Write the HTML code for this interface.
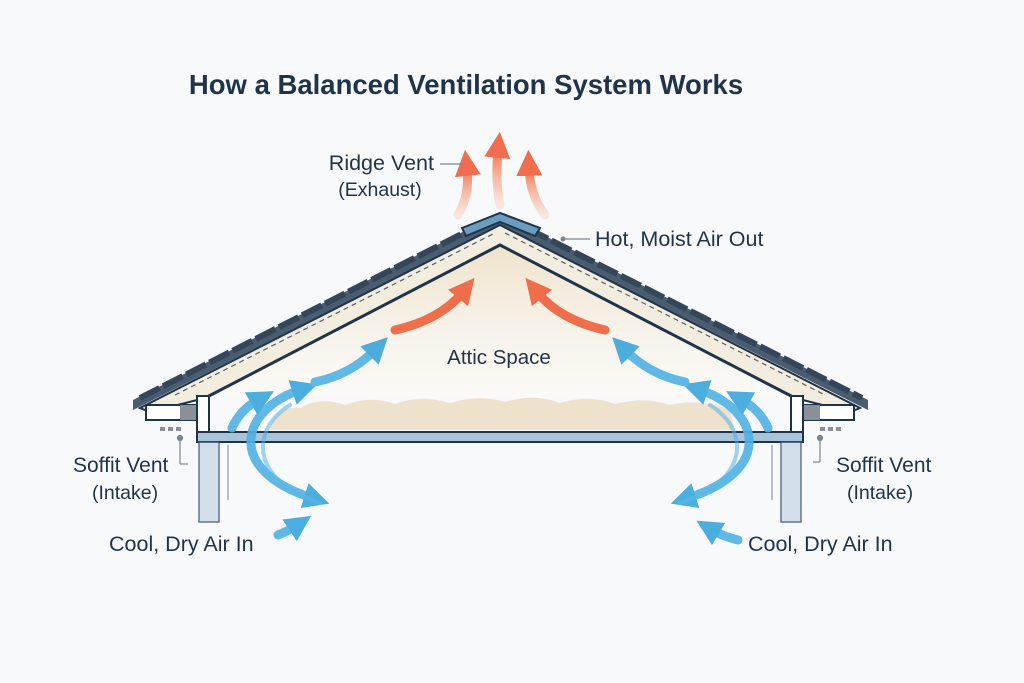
<!DOCTYPE html>
<html><head><meta charset="utf-8"><style>
html,body{margin:0;padding:0;background:#f8f9fb;}
svg{display:block;}
text{font-family:"Liberation Sans",sans-serif;fill:#1f3349;}
</style></head><body>
<svg width="1024" height="683" viewBox="0 0 1024 683" xmlns="http://www.w3.org/2000/svg">
<defs>
<linearGradient id="attic" x1="0" y1="0" x2="0" y2="1">
<stop offset="0" stop-color="#efe3cc"/><stop offset="0.6" stop-color="#f8f4ec"/><stop offset="1" stop-color="#fbfaf7"/></linearGradient>
<marker id="bh" viewBox="0 0 10 10" refX="3" refY="5" markerWidth="26" markerHeight="26" markerUnits="userSpaceOnUse" orient="auto-start-reverse"><path d="M0,0 L10,5 L0,10 Z" fill="#3aa6dc"/></marker>
<marker id="rh" viewBox="0 0 10 10" refX="3" refY="5" markerWidth="26" markerHeight="26" markerUnits="userSpaceOnUse" orient="auto-start-reverse"><path d="M0,0 L10,5 L0,10 Z" fill="#f0603c"/></marker>
<linearGradient id="rg" x1="0" y1="1" x2="0" y2="0"><stop offset="0" stop-color="#f7b48f" stop-opacity="0.3"/><stop offset="1" stop-color="#f0603c"/></linearGradient>
</defs>
<rect width="1024" height="683" fill="#f8f9fb"/>
<text x="466" y="94" font-size="27.5" text-anchor="middle" font-weight="bold" fill="#1f3a52">How a Balanced Ventilation System Works</text>

<!-- attic interior -->
<polygon points="500,245 205,398 795,398" fill="url(#attic)"/>
<!-- insulation -->
<path d="M270,430 Q275,405 300,408 Q320,396 345,405 Q370,395 395,404 Q420,394 450,403 Q480,394 505,402 Q535,393 560,403 Q590,394 615,404 Q645,396 670,405 Q700,398 730,410 L735,430 Z" fill="#ecdcc0" opacity="0.8"/>
<!-- roof slabs -->
<polygon points="133,400 500,213 868,400 868,410 500,225 133,410" fill="#4a5c70"/>
<path d="M140,398 L495,217" stroke="#34465a" stroke-width="6" stroke-dasharray="22,4"/>
<path d="M505,217 L862,398" stroke="#34465a" stroke-width="6" stroke-dasharray="22,4"/>
<polygon points="140,408 500,225 860,408 850,412 795,398 500,245 205,398 150,412" fill="#f3ede0" stroke="#1f3349" stroke-width="2"/>
<line x1="175" y1="395" x2="495" y2="233" stroke="#55606c" stroke-width="1.2" stroke-dasharray="5,4"/>
<line x1="505" y1="233" x2="825" y2="395" stroke="#55606c" stroke-width="1.2" stroke-dasharray="5,4"/>
<path d="M205,398 L500,245 L795,398" fill="none" stroke="#1f3349" stroke-width="3"/>
<!-- ridge cap -->
<polygon points="462,228 500,213 540,228 535,236 500,222 466,236" fill="#6a9dc0" stroke="#1f3349" stroke-width="2"/>
<!-- soffits -->
<rect x="146" y="405" width="50" height="15" fill="#fff" stroke="#1f3349" stroke-width="2"/>
<rect x="180" y="405" width="16" height="15" fill="#8a9097"/>
<rect x="804" y="405" width="50" height="15" fill="#fff" stroke="#1f3349" stroke-width="2"/>
<rect x="804" y="405" width="16" height="15" fill="#8a9097"/>
<!-- studs -->
<rect x="197" y="396" width="12" height="46" fill="#fff" stroke="#1f3349" stroke-width="2"/>
<rect x="791" y="396" width="12" height="46" fill="#fff" stroke="#1f3349" stroke-width="2"/>
<!-- floor beam -->
<rect x="197" y="432" width="606" height="10" fill="#a9c4d9" stroke="#1f3349" stroke-width="2"/>
<!-- posts -->
<rect x="199" y="442" width="20" height="80" fill="#c9d8e6" stroke="#3d5670" stroke-width="1.5" opacity="0.8"/>
<rect x="781" y="442" width="20" height="80" fill="#c9d8e6" stroke="#3d5670" stroke-width="1.5" opacity="0.8"/>
<line x1="228" y1="445" x2="228" y2="500" stroke="#aab" stroke-width="1.5"/>
<line x1="772" y1="445" x2="772" y2="500" stroke="#aab" stroke-width="1.5"/>
<!-- soffit vent dots -->
<g fill="#8a9097"><rect x="160" y="427" width="5" height="4"/><rect x="168" y="427" width="5" height="4"/><rect x="176" y="427" width="5" height="4"/><rect x="820" y="427" width="5" height="4"/><rect x="828" y="427" width="5" height="4"/><rect x="836" y="427" width="5" height="4"/></g>
<g stroke="#7a8590" stroke-width="1.2" fill="#7a8590"><circle cx="180" cy="438" r="2.5"/><line x1="180" y1="438" x2="180" y2="464"/><line x1="180" y1="464" x2="188" y2="464"/>
<circle cx="820" cy="438" r="2.5"/><line x1="820" y1="438" x2="820" y2="462"/><line x1="820" y1="462" x2="813" y2="462"/></g>

<!-- blue arrows -->
<g fill="none" stroke="#4fb2e4" stroke-width="9" stroke-linecap="round" opacity="0.9">
<path d="M300,390 C240,410 225,470 312,498" marker-start="url(#bh)" marker-end="url(#bh)"/>
<path d="M290,405 C250,430 250,480 320,503" stroke-width="4" opacity="0.6"/>
<path d="M232,428 Q240,410 258,400" marker-end="url(#bh)"/>
<path d="M315,382 Q350,375 375,350" marker-end="url(#bh)"/>
<path d="M278,535 Q290,530 296,526" marker-end="url(#bh)"/>
<path d="M700,390 C760,410 775,470 688,498" marker-start="url(#bh)" marker-end="url(#bh)"/>
<path d="M710,405 C750,430 750,480 680,503" stroke-width="4" opacity="0.6"/>
<path d="M768,428 Q760,410 742,400" marker-end="url(#bh)"/>
<path d="M685,382 Q650,375 625,350" marker-end="url(#bh)"/>
<path d="M738,540 Q722,536 712,530" marker-end="url(#bh)"/>
</g>
<!-- red arrows -->
<g fill="none" stroke="#f0603c" stroke-width="9" stroke-linecap="round" opacity="0.9">
<path d="M395,330 Q440,320 463,292" marker-end="url(#rh)"/>
<path d="M605,330 Q560,320 537,292" marker-end="url(#rh)"/>
<path d="M458,215 Q470,195 467,168" stroke="url(#rg)" marker-end="url(#rh)"/>
<path d="M500,205 Q495,180 498,150" stroke="url(#rg)" marker-end="url(#rh)"/>
<path d="M545,215 Q530,195 529,168" stroke="url(#rg)" marker-end="url(#rh)"/>
</g>

<!-- labels -->
<text x="434" y="170" font-size="21.5" text-anchor="end">Ridge Vent</text>
<line x1="440" y1="164" x2="463" y2="164" stroke="#7a8590" stroke-width="1.2"/>
<text x="380" y="196" font-size="19.5" text-anchor="middle" fill="#3d4d5e">(Exhaust)</text>
<circle cx="563" cy="239" r="2.5" fill="#7a8590"/><line x1="563" y1="239" x2="590" y2="239" stroke="#7a8590" stroke-width="1.2"/>
<text x="595" y="246" font-size="21.5">Hot, Moist Air Out</text>
<text x="499" y="364" font-size="20.5" text-anchor="middle">Attic Space</text>
<text x="73" y="472" font-size="21">Soffit Vent</text>
<text x="92" y="499" font-size="19.5" fill="#3d4d5e">(Intake)</text>
<text x="109" y="551" font-size="21.5">Cool, Dry Air In</text>
<text x="836" y="472" font-size="21">Soffit Vent</text>
<text x="847" y="499" font-size="19.5" fill="#3d4d5e">(Intake)</text>
<text x="748" y="551" font-size="21.5">Cool, Dry Air In</text>
</svg>
</body></html>
